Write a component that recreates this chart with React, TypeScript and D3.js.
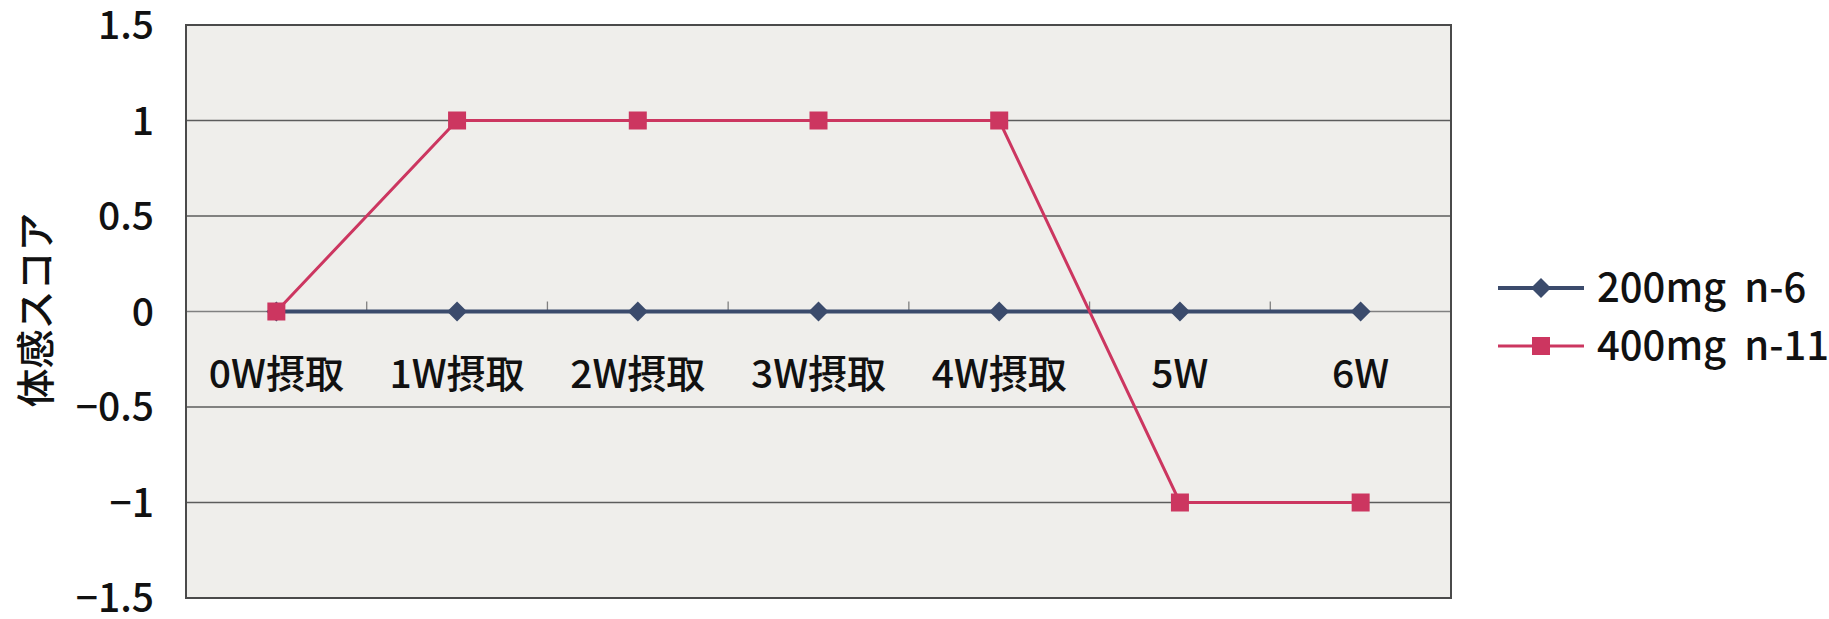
import React from 'react';
import * as d3 from 'd3';

const categories = ['0W摂取', '1W摂取', '2W摂取', '3W摂取', '4W摂取', '5W', '6W'];
const series200 = [0, 0, 0, 0, 0, 0, 0];
const series400 = [0, 1, 1, 1, 1, -1, -1];
const yTicks = [1.5, 1, 0.5, 0, -0.5, -1, -1.5];
const legendLabels = ['200mg  n-6', '400mg  n-11'];

const W = 1829;
const H = 619;
const plot = { left: 186, right: 1451, top: 25, bottom: 598 };
const navy = '#3b4b6c';
const red = '#cc3660';
const font = '"Noto Sans CJK JP", "Liberation Sans", sans-serif';

export default function App() {
  const x = d3.scaleBand<string>().domain(categories).range([plot.left, plot.right]);
  const y = d3.scaleLinear().domain([-1.5, 1.5]).range([plot.bottom, plot.top]);
  const cx = (i: number) => (x(categories[i]) as number) + x.bandwidth() / 2;

  const line = d3
    .line<number>()
    .x((_, i) => cx(i))
    .y((d) => y(d));

  const diamond = (px: number, py: number, r: number) =>
    `M${px},${py - r}L${px + r},${py}L${px},${py + r}L${px - r},${py}Z`;

  return (
    <svg width={W} height={H} style={{ position: 'absolute', left: 0, top: 0, background: '#fff' }}>
      <rect x={plot.left} y={plot.top} width={plot.right - plot.left} height={plot.bottom - plot.top} fill="#efeeeb" />
      {/* grid lines */}
      {yTicks.filter((t) => t !== 0).map((t) => (
        <line key={t} x1={plot.left} x2={plot.right} y1={y(t)} y2={y(t)} stroke="#5c5c5c" strokeWidth={1.3} />
      ))}
      {/* category axis at 0 */}
      <line x1={plot.left} x2={plot.right} y1={y(0)} y2={y(0)} stroke="#808080" strokeWidth={1.3} />
      {categories.slice(1).map((c) => (
        <line key={c} x1={x(c)} x2={x(c)} y1={y(0)} y2={y(0) - 10} stroke="#808080" strokeWidth={1.3} />
      ))}
      <rect x={plot.left} y={plot.top} width={plot.right - plot.left} height={plot.bottom - plot.top} fill="none" stroke="#4a4a4a" strokeWidth={2} />

      {/* y tick labels */}
      {yTicks.map((t) => (
        <text key={t} x={154} y={y(t)} dy="0.36em" textAnchor="end" fontFamily={font} fontWeight={500} fontSize={39} fill="#111">
          {t < 0 ? `−${Math.abs(t)}` : `${t}`}
        </text>
      ))}
      {/* category labels */}
      {categories.map((c, i) => (
        <text key={c} x={cx(i)} y={374} dy="0.36em" textAnchor="middle" fontFamily={font} fontWeight={500} fontSize={39} fill="#111">
          {c}
        </text>
      ))}
      <text
        transform={`translate(36,310) rotate(-90)`}
        textAnchor="middle"
        dy="0.36em"
        fontFamily={font}
        fontWeight={500}
        fontSize={39}
        fill="#111"
      >
        体感スコア
      </text>

      {/* series 200mg */}
      <path d={line(series200) as string} fill="none" stroke={navy} strokeWidth={4} />
      {series200.map((v, i) => (
        <path key={i} d={diamond(cx(i), y(v), 10)} fill={navy} />
      ))}
      {/* series 400mg */}
      <path d={line(series400) as string} fill="none" stroke={red} strokeWidth={3} />
      {series400.map((v, i) => (
        <rect key={i} x={cx(i) - 9} y={y(v) - 9} width={18} height={18} fill={red} />
      ))}

      {/* legend */}
      <g>
        <line x1={1498} x2={1584} y1={288} y2={288} stroke={navy} strokeWidth={4} />
        <path d={diamond(1541, 288, 10)} fill={navy} />
        <text x={1597} y={288} dy="0.36em" fontFamily={font} fontWeight={500} fontSize={40} fill="#111" style={{ whiteSpace: 'pre' }}>
          {legendLabels[0]}
        </text>
        <line x1={1498} x2={1584} y1={346} y2={346} stroke={red} strokeWidth={3} />
        <rect x={1532} y={337} width={18} height={18} fill={red} />
        <text x={1597} y={346} dy="0.36em" fontFamily={font} fontWeight={500} fontSize={40} fill="#111" style={{ whiteSpace: 'pre' }}>
          {legendLabels[1]}
        </text>
      </g>
    </svg>
  );
}
